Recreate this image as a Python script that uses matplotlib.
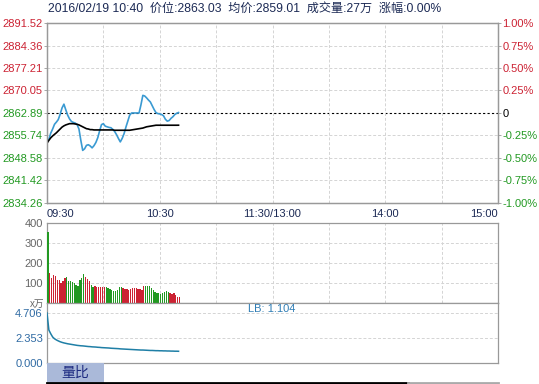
import numpy as np
import matplotlib
matplotlib.use("Agg")
from matplotlib import pyplot as plt
from matplotlib.lines import Line2D
from matplotlib.patches import Rectangle

plt.rcParams["font.family"] = ["Liberation Sans", "Noto Sans CJK SC", "DejaVu Sans"]

# --- data (one value per minute from 09:30) ---
prev_close = 2862.89

price = [2853.9, 2854.5, 2856.5, 2857.8, 2859.3, 2860.0, 2860.8, 2862.5, 2864.5, 2865.7,
         2863.9, 2862.2, 2861.0, 2860.2, 2859.9, 2859.7, 2859.2, 2857.8, 2854.2, 2851.0,
         2851.5, 2852.6, 2852.8, 2852.4, 2851.8, 2852.5, 2853.5, 2855.0, 2857.2, 2859.2,
         2859.5, 2858.7, 2858.5, 2858.3, 2858.2, 2857.7, 2857.0, 2856.0, 2854.8, 2853.7,
         2854.8, 2856.3, 2858.4, 2860.3, 2862.2, 2862.9, 2862.9, 2862.9, 2862.9, 2862.9,
         2865.5, 2868.5, 2868.3, 2867.7, 2867.0, 2866.4, 2865.2, 2864.0, 2863.0, 2862.7,
         2862.6, 2862.4, 2862.0, 2860.9, 2860.3, 2860.5, 2861.2, 2861.7, 2862.4, 2862.8,
         2863.03]

avg_price = [2853.3, 2854.2, 2855.0, 2855.6, 2856.1, 2856.6, 2857.2, 2857.8, 2858.4, 2858.8,
             2859.1, 2859.3, 2859.5, 2859.5, 2859.5, 2859.4, 2859.3, 2859.1, 2858.8, 2858.5,
             2858.2, 2857.9, 2857.8, 2857.6, 2857.6, 2857.5, 2857.5, 2857.5, 2857.5, 2857.5,
             2857.5, 2857.5, 2857.5, 2857.5, 2857.5, 2857.5, 2857.4, 2857.4, 2857.4, 2857.4,
             2857.4, 2857.4, 2857.4, 2857.4, 2857.4, 2857.5, 2857.6, 2857.7, 2857.8, 2857.9,
             2858.0, 2858.1, 2858.3, 2858.5, 2858.6, 2858.7, 2858.8, 2858.9, 2859.0, 2859.0,
             2859.0, 2859.0, 2859.0, 2859.0, 2859.0, 2859.0, 2859.0, 2859.0, 2859.0, 2859.0,
             2859.01]

volume = [355, 150, 125, 140, 135, 115, 115, 100, 110, 125,
          130, 110, 110, 105, 100, 90, 85, 115, 125, 145,
          130, 120, 110, 90, 80, 85, 80, 80, 80, 80,
          80, 80, 75, 70, 65, 60, 60, 65, 80, 80,
          75, 70, 70, 65, 70, 75, 75, 75, 70, 70,
          65, 85, 85, 85, 85, 75, 65, 55, 50, 50,
          45, 50, 55, 60, 55, 50, 45, 50, 40, 30,
          30]

lb = [4.706, 3.10, 2.75, 2.45, 2.28, 2.17, 2.08, 2.00, 1.94, 1.89,
      1.85, 1.81, 1.78, 1.75, 1.72, 1.69, 1.66, 1.64, 1.62, 1.61,
      1.59, 1.57, 1.55, 1.54, 1.52, 1.51, 1.50, 1.48, 1.47, 1.45,
      1.44, 1.43, 1.42, 1.41, 1.39, 1.38, 1.37, 1.36, 1.35, 1.33,
      1.32, 1.31, 1.30, 1.29, 1.28, 1.27, 1.26, 1.25, 1.24, 1.23,
      1.22, 1.22, 1.21, 1.20, 1.19, 1.18, 1.18, 1.17, 1.16, 1.16,
      1.15, 1.15, 1.14, 1.14, 1.13, 1.13, 1.12, 1.12, 1.11, 1.11,
      1.104]

y_ticks = [2834.26, 2841.42, 2848.58, 2855.74, 2862.89, 2870.05, 2877.21, 2884.36, 2891.52]
pct_labels = ["-1.00%", "-0.75%", "-0.50%", "-0.25%", "0", "0.25%", "0.50%", "0.75%", "1.00%"]
x_label_pos = [0, 60, 120, 180, 240]
x_labels = ["09:30", "10:30", "11:30/13:00", "14:00", "15:00"]
grid_pos = [30, 60, 90, 120, 150, 180, 210]
vol_ticks = [100, 200, 300, 400]
lb_ticks = [0.0, 2.353, 4.706]

minutes = np.arange(len(price))

RED = "#cc2233"
GREEN = "#229922"
NAVY = "#1c2a55"
BORDER = "#999999"
GRID = "#d4d4d4"

W, H = 539, 384
fig = plt.figure(figsize=(W / 100, H / 100), dpi=100)


def box(left, top, right, bottom):
    return [left / W, 1 - bottom / H, (right - left) / W, (bottom - top) / H]


def style(ax):
    for s in ax.spines.values():
        s.set_color(BORDER)
        s.set_linewidth(0.9)


# ---------- price panel ----------
ax = fig.add_axes(box(47, 23, 498, 203))
style(ax)
ax.set_xlim(0, 240)
ax.set_ylim(y_ticks[0], y_ticks[-1])
for y in y_ticks[1:-1]:
    if y == prev_close:
        ax.axhline(y, color="black", lw=0.8, ls=(0, (2, 2)), zorder=1)
    else:
        ax.axhline(y, color=GRID, lw=0.7, ls=(0, (3, 2)), zorder=1)
for x in grid_pos:
    ax.axvline(x, color=GRID, lw=0.7, ls=(0, (3, 2)), zorder=1)

ax.plot(minutes, price, color="#3a9ad2", lw=1.2, zorder=3)
ax.plot(minutes, avg_price, color="black", lw=1.2, zorder=3)

ax.set_yticks(y_ticks)
ax.set_yticklabels(["%.2f" % v for v in y_ticks], fontsize=8)
for v, lab in zip(y_ticks, ax.get_yticklabels()):
    lab.set_color(GREEN if v <= prev_close else RED)
ax.tick_params(axis="y", length=2, width=0.6, color=BORDER, pad=1)

ax.set_xticks(x_label_pos)
ax.set_xticklabels(x_labels, fontsize=8, color=NAVY)
ax.tick_params(axis="x", length=0, pad=4)
labs = ax.get_xticklabels()
labs[0].set_ha("left")
labs[-1].set_ha("right")

ax_r = ax.twinx()
style(ax_r)
ax_r.set_ylim(y_ticks[0], y_ticks[-1])
ax_r.set_yticks(y_ticks)
ax_r.set_yticklabels(pct_labels, fontsize=8)
for i, lab in enumerate(ax_r.get_yticklabels()):
    lab.set_color(GREEN if i < 4 else ("black" if i == 4 else RED))
ax_r.tick_params(axis="y", length=2, width=0.6, color=BORDER, pad=1)

# ---------- volume panel ----------
axv = fig.add_axes(box(47, 223, 498, 303))
style(axv)
axv.set_xlim(0, 240)
axv.set_ylim(0, 400)
for y in vol_ticks[:-1]:
    axv.axhline(y, color=GRID, lw=0.7, ls=(0, (3, 2)), zorder=1)
for x in grid_pos:
    axv.axvline(x, color=GRID, lw=0.7, ls=(0, (3, 2)), zorder=1)
prev = [prev_close] + price[:-1]
bar_colors = [RED if p >= q else GREEN for p, q in zip(price, prev)]
axv.bar(minutes + 0.5, volume, width=0.7, color=bar_colors, linewidth=0,
        antialiased=False, zorder=3)
axv.set_xticks([])
axv.set_yticks(vol_ticks)
axv.set_yticklabels([str(v) for v in vol_ticks], fontsize=8, color="#666666")
axv.tick_params(axis="y", length=0, pad=3)
fig.text(45 / W, 1 - 304 / H, "x万", fontsize=7, color="#666666", ha="right", va="center")

# ---------- LB (量比) panel ----------
axl = fig.add_axes(box(47, 303, 498, 363))
style(axl)
axl.set_xlim(0, 240)
axl.set_ylim(0, 4.706 * 1.2)
for y in lb_ticks[1:]:
    axl.axhline(y, color=GRID, lw=0.7, ls=(0, (3, 2)), zorder=1)
axl.plot(minutes, lb, color="#1f7fa6", lw=1.1, zorder=3)
axl.set_xticks([])
axl.set_yticks(lb_ticks)
axl.set_yticklabels(["%.3f" % v for v in lb_ticks], fontsize=8, color="#2f6aa3")
axl.tick_params(axis="y", length=0, pad=3)
axl.text(0.446, 0.9, "LB: %.3f" % lb[-1], transform=axl.transAxes, fontsize=8,
         color="#2f7db5", ha="left", va="center")

# ---------- bottom tab / scrollbar ----------
fig.patches.append(Rectangle((47 / W, 1 - 383 / H), 57 / W, 20 / H, transform=fig.transFigure,
                             facecolor="#aab9d9", edgecolor="none"))
fig.text(75 / W, 1 - 373 / H, "量比", fontsize=10, color="#1c2a80", ha="center", va="center")
fig.lines.append(Line2D([47 / W, 408 / W], [1 - 383 / H, 1 - 383 / H], transform=fig.transFigure,
                        color="black", lw=2))
fig.lines.append(Line2D([408 / W, 498 / W], [1 - 383 / H, 1 - 383 / H], transform=fig.transFigure,
                        color="#aaaaaa", lw=2))

# ---------- header ----------
fig.text(48 / W, 1 - 9 / H,
         "2016/02/19 10:40  价位:2863.03  均价:2859.01  成交量:27万  涨幅:0.00%",
         fontsize=8.7, color=NAVY, ha="left", va="center")

fig.savefig("out.png", dpi=100)
